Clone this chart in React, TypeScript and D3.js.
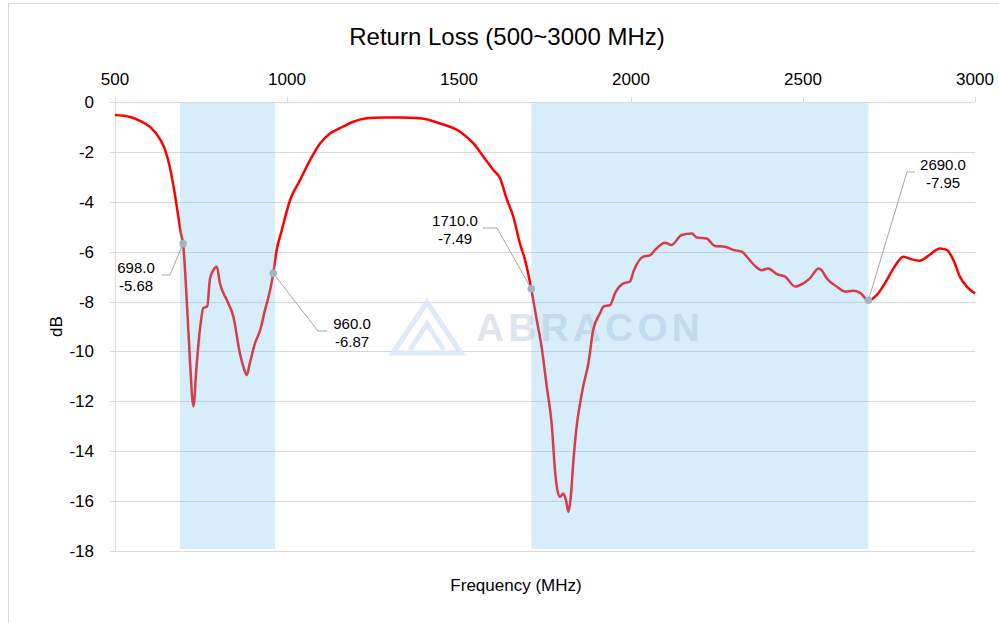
import React, { useEffect, useRef } from "react";
import * as d3 from "d3";

// measured return loss curve (MHz, dB)
const freqs = [500, 544, 573, 602, 631, 645, 660, 674, 683, 692, 698, 708, 718, 728, 737, 747, 757, 768, 776, 786, 796, 805, 825, 844, 863, 873, 883, 892, 907, 922, 936, 951, 960, 970, 985, 1009, 1038, 1067, 1096, 1125, 1154, 1193, 1232, 1280, 1330, 1387, 1445, 1503, 1542, 1571, 1600, 1619, 1639, 1658, 1677, 1692, 1710, 1726, 1740, 1755, 1770, 1779, 1786, 1794, 1803, 1811, 1818, 1825, 1832, 1842, 1852, 1861, 1876, 1890, 1910, 1920, 1939, 1954, 1978, 1997, 2007, 2036, 2055, 2070, 2099, 2118, 2147, 2177, 2191, 2220, 2244, 2273, 2297, 2322, 2341, 2361, 2380, 2399, 2424, 2448, 2477, 2501, 2520, 2545, 2554, 2569, 2598, 2622, 2646, 2666, 2690, 2714, 2738, 2763, 2792, 2816, 2840, 2864, 2898, 2918, 2937, 2956, 2976, 3000];
const returnLoss = [-0.52, -0.6, -0.76, -1.0, -1.5, -1.9, -2.65, -3.7, -4.5, -5.3, -5.68, -7.8, -10.4, -12.2, -10.6, -9.1, -8.26, -8.2, -7.1, -6.74, -6.6, -7.27, -7.94, -8.6, -10.07, -10.6, -10.95, -10.47, -9.67, -9.14, -8.34, -7.54, -6.87, -5.93, -5.13, -3.93, -3.13, -2.33, -1.66, -1.26, -1.05, -0.79, -0.65, -0.62, -0.62, -0.65, -0.86, -1.19, -1.66, -2.19, -2.73, -3.05, -3.9, -4.6, -5.67, -6.33, -7.49, -8.74, -9.81, -11.4, -13.0, -14.76, -15.56, -15.83, -15.69, -15.96, -16.43, -15.83, -14.49, -13.0, -12.08, -11.4, -10.48, -9.14, -8.47, -8.2, -8.14, -7.65, -7.27, -7.2, -6.8, -6.2, -6.15, -5.93, -5.64, -5.73, -5.33, -5.27, -5.43, -5.47, -5.77, -5.8, -5.93, -6.0, -6.27, -6.58, -6.74, -6.67, -6.9, -7.0, -7.4, -7.27, -7.07, -6.67, -6.74, -7.07, -7.4, -7.6, -7.57, -7.65, -7.95, -7.74, -7.27, -6.67, -6.2, -6.31, -6.36, -6.17, -5.87, -5.93, -6.33, -7.0, -7.4, -7.67];

// shaded LTE bands
const bandStarts = [689, 1710];
const bandEnds = [965, 2690];

const markerFreqs = [698, 960, 1710, 2690];
const markerValues = [-5.68, -6.87, -7.49, -7.95];

const xTicks = [500, 1000, 1500, 2000, 2500, 3000];
const yTicks = [0, -2, -4, -6, -8, -10, -12, -14, -16, -18];

const App = () => {
  const ref = useRef<SVGSVGElement>(null);
  const width = 999;
  const height = 623;
  const margin = { top: 102, right: 24, bottom: 72, left: 115 };

  useEffect(() => {
    const svg = d3.select(ref.current);
    svg.selectAll("*").remove();
    const font = "Liberation Sans, Arial, sans-serif";

    const x = d3.scaleLinear().domain([500, 3000]).range([margin.left, width - margin.right]);
    const y = d3.scaleLinear().domain([0, -18]).range([margin.top, height - margin.bottom]);

    svg.append("rect")
      .attr("width", width).attr("height", height).attr("fill", "white");

    // chart border
    svg.append("rect")
      .attr("x", 8.5).attr("y", 3.5).attr("width", 1100).attr("height", 800)
      .attr("fill", "none").attr("stroke", "#d9d9d9");

    svg.append("text")
      .attr("x", 507).attr("y", 45)
      .attr("text-anchor", "middle")
      .style("font-family", font).style("font-size", "24px")
      .text("Return Loss (500~3000 MHz)");

    // grid
    svg.selectAll(".grid")
      .data(yTicks.filter(d => d !== 0))
      .enter().append("line")
      .attr("x1", margin.left - 5).attr("x2", width - margin.right)
      .attr("y1", d => Math.round(y(d)) + 0.5).attr("y2", d => Math.round(y(d)) + 0.5)
      .attr("stroke", "#d9d9d9").attr("stroke-width", 1);

    // top axis line
    svg.append("line")
      .attr("x1", margin.left - 5).attr("x2", width - margin.right)
      .attr("y1", margin.top + 0.5).attr("y2", margin.top + 0.5)
      .attr("stroke", "#d9d9d9");
    svg.selectAll(".xtick")
      .data(xTicks)
      .enter().append("line")
      .attr("x1", d => Math.round(x(d)) + 0.5).attr("x2", d => Math.round(x(d)) + 0.5)
      .attr("y1", margin.top - 5).attr("y2", margin.top)
      .attr("stroke", "#d9d9d9");
    // y axis line
    svg.append("line")
      .attr("x1", margin.left + 0.5).attr("x2", margin.left + 0.5)
      .attr("y1", margin.top - 5).attr("y2", y(-18))
      .attr("stroke", "#d9d9d9");

    svg.selectAll(".xlabel")
      .data(xTicks)
      .enter().append("text")
      .attr("x", d => x(d)).attr("y", 85)
      .attr("text-anchor", "middle")
      .style("font-family", font).style("font-size", "17px")
      .text(d => d);

    svg.selectAll(".ylabel")
      .data(yTicks)
      .enter().append("text")
      .attr("x", 94).attr("y", d => y(d) + 6)
      .attr("text-anchor", "end")
      .style("font-family", font).style("font-size", "17px")
      .text(d => d);

    svg.append("text")
      .attr("transform", `translate(62, ${(margin.top + y(-18)) / 2}) rotate(-90)`)
      .attr("text-anchor", "middle")
      .style("font-family", font).style("font-size", "17px")
      .text("dB");

    svg.append("text")
      .attr("x", 516).attr("y", 591)
      .attr("text-anchor", "middle")
      .style("font-family", font).style("font-size", "17px")
      .text("Frequency (MHz)");

    // watermark
    const wm = svg.append("g").attr("opacity", 0.9);
    wm.append("path")
      .attr("d", "M393,353 L427,302 L461,353 Z M410,350 L427,324 L444,350")
      .attr("fill", "none").attr("stroke", "#dce7f7").attr("stroke-width", 5)
      .attr("stroke-linejoin", "miter");
    wm.append("text")
      .attr("x", 476).attr("y", 341)
      .attr("textLength", 224)
      .style("font-family", font).style("font-size", "39px").style("font-weight", "bold")
      .attr("fill", "#dde2eb")
      .text("ABRACON");

    const line = d3.line<number>()
      .x((d, i) => x(freqs[i]))
      .y(d => y(d))
      .curve(d3.curveMonotoneX);

    svg.append("path")
      .datum(returnLoss)
      .attr("d", line)
      .attr("fill", "none")
      .attr("stroke", "#ff0000")
      .attr("stroke-width", 2.5)
      .attr("stroke-linejoin", "round");

    // band shading on top of the curve
    svg.selectAll(".band")
      .data(bandStarts)
      .enter().append("rect")
      .attr("x", d => x(d))
      .attr("width", (d, i) => x(bandEnds[i]) - x(d))
      .attr("y", margin.top + 1).attr("height", y(-18) - margin.top - 3)
      .attr("fill", "rgb(122,200,240)").attr("opacity", 0.3);

    // markers with leader lines
    const labelPos = [
      { lx: 170, ly: 275, hx: 162, tx: 136 },
      { lx: 318, ly: 331, hx: 327, tx: 352 },
      { lx: 497, ly: 228, hx: 483, tx: 455 },
      { lx: 907, ly: 172, hx: 915, tx: 943 },
    ];
    markerFreqs.forEach((f, i) => {
      const p = labelPos[i];
      const px = x(f), py = y(markerValues[i]);
      svg.append("polyline")
        .attr("points", `${px},${py} ${p.lx},${p.ly} ${p.hx},${p.ly}`)
        .attr("fill", "none").attr("stroke", "#a6a6a6").attr("stroke-width", 1);
      svg.append("circle")
        .attr("cx", px).attr("cy", py).attr("r", 3.8)
        .attr("fill", "#a5b4bf");
      const t = svg.append("text")
        .attr("text-anchor", "middle")
        .style("font-family", font).style("font-size", "15px");
      t.append("tspan").attr("x", p.tx).attr("y", p.ly - 2).text(f.toFixed(1));
      t.append("tspan").attr("x", p.tx).attr("y", p.ly + 16).text(markerValues[i].toFixed(2));
    });
  }, []);

  return (
    <svg ref={ref} width={width} height={height}
      style={{ position: "absolute", left: 0, top: 0 }} />
  );
};

export default App;
